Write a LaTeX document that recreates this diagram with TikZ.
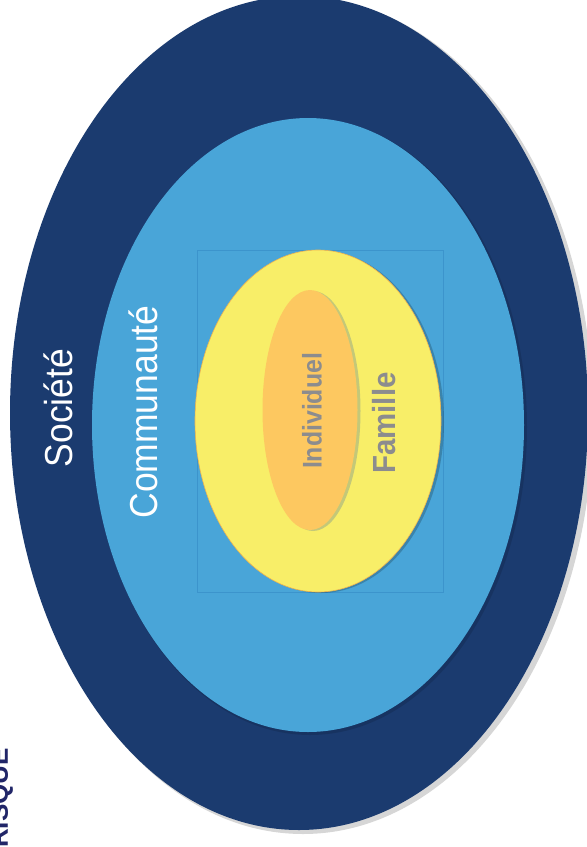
\documentclass[tikz,border=0pt]{standalone}
\usepackage{fontspec}
\setmainfont{Liberation Sans}
\usetikzlibrary{shapes.geometric}
\definecolor{socnavy}{RGB}{27,59,111}
\definecolor{comblue}{RGB}{73,165,216}
\definecolor{frameblue}{RGB}{60,148,204}
\definecolor{famyellow}{RGB}{248,238,104}
\definecolor{famedge}{RGB}{238,180,80}
\definecolor{indorange}{RGB}{253,200,96}
\definecolor{indshade}{RGB}{196,200,120}
\definecolor{lblgray}{RGB}{140,140,142}
\definecolor{riskink}{RGB}{33,38,104}
\tikzset{
  ring/.style={ellipse, inner sep=0pt},
  ringshadow/.style={ellipse, inner sep=0pt, fill=black, opacity=0.16},
  outerlabel/.style={rotate=90, xscale=0.91, text=white, inner sep=0pt,
                     font=\fontsize{39}{42}\selectfont},
  innerlabel/.style={rotate=90, xscale=0.92, text=lblgray, inner sep=0pt,
                     font=\bfseries\fontsize{27}{30}\selectfont}
}

\begin{document}
\begin{tikzpicture}[x=1pt, y=-1pt]
\clip (0,0) rectangle (587,847);
\fill[white] (0,0) rectangle (587,847);
\node[ringshadow, minimum width=580, minimum height=836] (socshadow) at (303,416) {};
\node[ring, fill=socnavy, minimum width=578, minimum height=834] (societe) at (299,413) {};
\node[ringshadow, opacity=0.12, minimum width=434, minimum height=616] (comshadow) at (310,427) {};
\node[ring, fill=comblue, minimum width=432, minimum height=614] (communaute) at (308,425) {};
\node[draw=frameblue, line width=0.6pt, minimum width=246, minimum height=342,
      inner sep=0pt] (famframe) at (320,421) {};
\node[ringshadow, opacity=0.2, minimum width=246, minimum height=342] (famshadow) at (321,422) {};
\node[ring, fill=famyellow, draw=famedge, line width=0.6pt,
      minimum width=246, minimum height=342] (famille) at (318,421) {};
\node[ring, fill=indshade, minimum width=95, minimum height=240] (indshadow) at (313,411) {};
\node[ring, fill=indorange, minimum width=95, minimum height=240] (individuel) at (310,410) {};
\node[outerlabel] (socLabel) at (58,408) {Société};
\node[outerlabel] (comLabel) at (143,412) {Communauté};
\node[innerlabel] (indLabel) at (312,411) {Individuel};
\node[innerlabel, font=\bfseries\fontsize{32}{35}\selectfont] (famLabel) at (384,423) {Famille};
\node[rotate=90, anchor=base west, inner sep=0pt, text=riskink,
      font=\bfseries\fontsize{26}{30}\selectfont] (risque) at (8,848) {RISQUE};
\end{tikzpicture}
\end{document}
